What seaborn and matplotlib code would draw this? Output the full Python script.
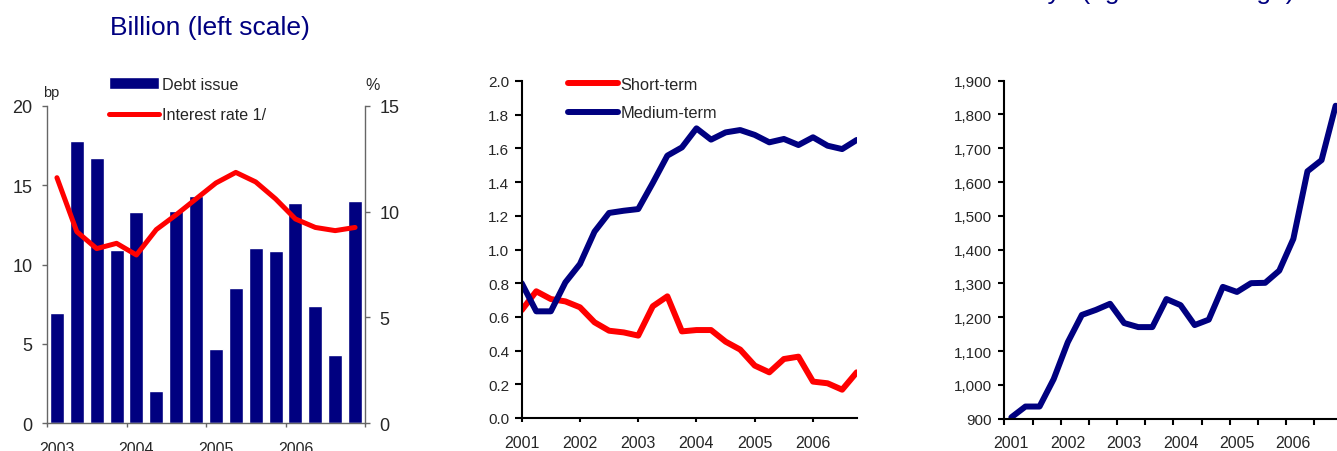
import numpy as np
import pandas as pd
import matplotlib
matplotlib.use("Agg")
import matplotlib.pyplot as plt
import seaborn as sns
from matplotlib.ticker import FixedLocator, FixedFormatter, NullFormatter, FuncFormatter

# ---------------- data ----------------
# Panel 1: quarterly debt issue (bars, left scale) and interest rate (line, right scale)
p1_quarters = [f"{y}Q{q}" for y in range(2003, 2007) for q in range(1, 5)]
debt_issue = [6.95, 17.8, 16.7, 10.9, 13.3, 2.05, 13.4, 14.3,
              4.7, 8.5, 11.05, 10.85, 13.85, 7.4, 4.3, 14.0]
interest_rate = [11.6, 9.05, 8.25, 8.5, 7.95, 9.15, 9.85, 10.6,
                 11.35, 11.85, 11.4, 10.6, 9.65, 9.25, 9.1, 9.25]
p1_year_labels = ["2003", "2004", "2005", "2006"]

# Panel 2: short-term vs medium-term
p2_quarters = [f"{y}Q{q}" for y in range(2001, 2007) for q in range(1, 5)]
short_term = [0.64, 0.752, 0.706, 0.692, 0.657, 0.568, 0.518, 0.508,
              0.489, 0.663, 0.722, 0.514, 0.522, 0.522, 0.453, 0.406,
              0.311, 0.271, 0.35, 0.364, 0.216, 0.206, 0.168, 0.271]
medium_term = [0.80, 0.633, 0.633, 0.805, 0.914, 1.106, 1.217, 1.23,
               1.24, 1.395, 1.557, 1.606, 1.719, 1.652, 1.695, 1.709,
               1.68, 1.636, 1.656, 1.62, 1.666, 1.616, 1.596, 1.65]
p2_year_labels = ["2001", "2002", "2003", "2004", "2005", "2006"]

# Panel 3: level series
p3_quarters = [f"{y}Q{q}" for y in range(2001, 2007) for q in range(1, 5)]
p3_values = [904, 936, 936, 1017, 1126, 1207, 1222, 1240,
             1183, 1171, 1171, 1254, 1236, 1177, 1193, 1290,
             1275, 1301, 1302, 1338, 1432, 1632, 1665, 1826]
p3_year_labels = ["2001", "2002", "2003", "2004", "2005", "2006"]

title_left = "Billion (left scale)"
title_right = "Debt stock in days (right scale range)"

# ---------------- style ----------------
NAVY = "#000080"
RED = "#ff0000"
GRAY = "#666666"
sns.set_theme(style="white")
plt.rcParams["font.family"] = ["Liberation Sans", "DejaVu Sans"]

W, H = 1337, 452
fig = plt.figure(figsize=(W / 100, H / 100), dpi=100)


def px_axes(left, top, right, bottom):
    return fig.add_axes([left / W, 1 - bottom / H, (right - left) / W, (bottom - top) / H])


# ---------------- panel 1 ----------------
ax1 = px_axes(47, 106.7, 365, 424.3)
df1 = pd.DataFrame({"quarter": p1_quarters, "debt": debt_issue, "rate": interest_rate})
df1["pos"] = np.arange(len(df1))
sns.barplot(data=df1, x="quarter", y="debt", color=NAVY, saturation=1, width=0.7,
            ax=ax1, label="Debt issue")
ax1.set_xlim(-0.5, len(df1) - 0.5)
ax1.set_ylim(0, 20)
ax1.set_yticks([0, 5, 10, 15, 20])
ax1.set_xlabel("")
ax1.set_ylabel("")
ax1r = ax1.twinx()
sns.lineplot(data=df1, x="pos", y="rate", color=RED, lw=3.6, ax=ax1r,
             label="Interest rate 1/", solid_capstyle="round", solid_joinstyle="round")
ax1r.set_ylim(0, 15)
ax1r.set_yticks([0, 5, 10, 15])
ax1r.set_ylabel("")
ax1.xaxis.set_major_locator(FixedLocator([-0.5, 3.5, 7.5, 11.5, 15.5]))
ax1.xaxis.set_major_formatter(NullFormatter())
ax1.xaxis.set_minor_locator(FixedLocator([0, 4, 8, 12]))
ax1.xaxis.set_minor_formatter(FixedFormatter(p1_year_labels))
ax1.tick_params(axis="x", which="major", direction="out", length=3, width=1, color=GRAY, bottom=True)
ax1.tick_params(axis="x", which="minor", length=0, labelsize=11.5, pad=13, bottom=True)
ax1.tick_params(axis="y", direction="out", length=3.6, width=1, color=GRAY, labelsize=13, pad=7, left=True)
ax1r.tick_params(axis="y", direction="out", length=3.6, width=1, color=GRAY, labelsize=13, pad=7, right=True)
for s in ["top", "right"]:
    ax1.spines[s].set_visible(False)
for s in ["top", "left", "bottom"]:
    ax1r.spines[s].set_visible(False)
for sp in [ax1.spines["left"], ax1.spines["bottom"], ax1r.spines["right"]]:
    sp.set_color(GRAY)
    sp.set_linewidth(1)
h1, l1 = ax1.get_legend_handles_labels()
h2, l2 = ax1r.get_legend_handles_labels()
if ax1.get_legend() is not None:
    ax1.get_legend().remove()
ax1r.legend(h1 + h2, l1 + l2, loc="upper left", bbox_to_anchor=(109 / W, 1 - 77.5 / H),
            bbox_transform=fig.transFigure, frameon=False, fontsize=11.6,
            handlelength=3.1, handletextpad=0.2, labelspacing=0.98,
            borderpad=0, borderaxespad=0)
fig.text(43 / W, 1 - 97 / H, "bp", fontsize=10.5, va="baseline", ha="left")
fig.text(365 / W, 1 - 90 / H, "%", fontsize=11.5, va="baseline", ha="left")
fig.text(110 / W, 1 - 35 / H, title_left, fontsize=19, color=NAVY, va="baseline", ha="left")

# ---------------- panel 2 ----------------
ax2 = px_axes(521.7, 82, 856.7, 419)
df2 = pd.DataFrame({"quarter": p2_quarters, "short": short_term, "medium": medium_term})
df2["t"] = [int(q[:4]) + (int(q[-1]) - 1) / 4 for q in df2["quarter"]]
sns.lineplot(data=df2, x="t", y="short", color=RED, lw=4.3, ax=ax2, label="Short-term",
             solid_capstyle="round", solid_joinstyle="round")
sns.lineplot(data=df2, x="t", y="medium", color=NAVY, lw=4.3, ax=ax2, label="Medium-term",
             solid_capstyle="round", solid_joinstyle="round")
ax2.set_xlim(2001, 2006.75)
ax2.set_ylim(0, 2.0)
ax2.set_xticks([int(y) for y in p2_year_labels])
ax2.set_xticklabels(p2_year_labels)
ax2.set_yticks(np.round(np.arange(0, 2.01, 0.2), 1))
ax2.yaxis.set_major_formatter(FuncFormatter(lambda v, p: f"{v:.1f}"))
ax2.set_xlabel("")
ax2.set_ylabel("")
for s in ["top", "right"]:
    ax2.spines[s].set_visible(False)
for s in ["left", "bottom"]:
    ax2.spines[s].set_color("black")
    ax2.spines[s].set_linewidth(1.5)
ax2.tick_params(axis="y", direction="out", length=4.8, width=1.5, color="black", labelsize=11, pad=4, left=True)
ax2.tick_params(axis="x", direction="out", length=3, width=1.5, color="black", labelsize=11.5, pad=9, bottom=True)
ax2.legend(loc="upper left", bbox_to_anchor=(568 / W, 1 - 77.5 / H),
           bbox_transform=fig.transFigure, frameon=False, fontsize=11.8,
           handlelength=3.05, handletextpad=0.17, labelspacing=0.84,
           borderpad=0, borderaxespad=0)

# ---------------- panel 3 ----------------
ax3 = px_axes(1004.3, 81.7, 1342.7, 419.7)
df3 = pd.DataFrame({"quarter": p3_quarters, "value": p3_values})
df3["pos"] = np.arange(len(df3))
sns.lineplot(data=df3, x="pos", y="value", color=NAVY, lw=4.3, ax=ax3,
             solid_capstyle="round", solid_joinstyle="round")
ax3.set_xlim(-0.5, len(df3) - 0.5)
ax3.set_ylim(900, 1900)
ax3.set_yticks(np.arange(900, 1901, 100))
ax3.yaxis.set_major_formatter(FuncFormatter(lambda v, p: f"{v:,.0f}"))
ax3.xaxis.set_major_locator(FixedLocator(np.arange(-0.5, len(df3), 2)))
ax3.xaxis.set_major_formatter(NullFormatter())
ax3.xaxis.set_minor_locator(FixedLocator([0, 4, 8, 12, 16, 20]))
ax3.xaxis.set_minor_formatter(FixedFormatter(p3_year_labels))
ax3.set_xlabel("")
ax3.set_ylabel("")
for s in ["top", "right"]:
    ax3.spines[s].set_visible(False)
for s in ["left", "bottom"]:
    ax3.spines[s].set_color("black")
    ax3.spines[s].set_linewidth(1.5)
ax3.tick_params(axis="y", direction="out", length=4, width=1.5, color="black", labelsize=11, pad=5, left=True)
ax3.tick_params(axis="x", which="major", direction="out", length=4.3, width=1.5, color="black", bottom=True)
ax3.tick_params(axis="x", which="minor", length=0, labelsize=11.5, pad=12, bottom=True)
fig.text(1295 / W, 1 + 1.0 / H, title_right, fontsize=19, color=NAVY, va="baseline", ha="right")

fig.savefig("out.png", dpi=100)
